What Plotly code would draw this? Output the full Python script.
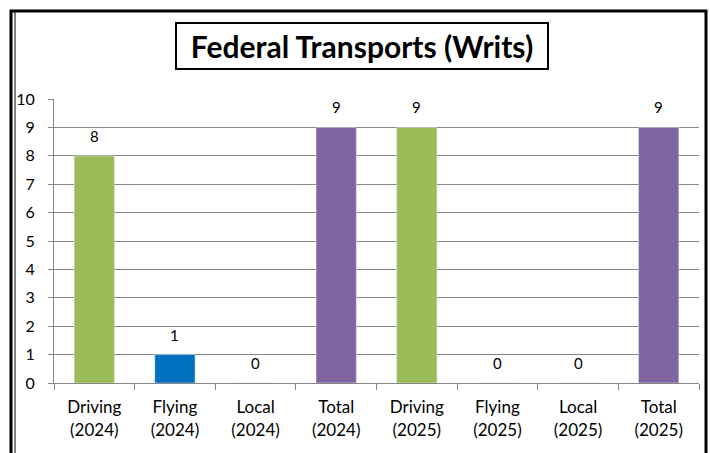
import plotly.graph_objects as go

categories = ["Driving<br>(2024)", "Flying<br>(2024)", "Local<br>(2024)", "Total<br>(2024)",
              "Driving<br>(2025)", "Flying<br>(2025)", "Local<br>(2025)", "Total<br>(2025)"]
values = [8, 1, 0, 9, 9, 0, 0, 9]
bar_colors = ["#9BBB59", "#0070C0", "#9BBB59", "#8064A2", "#9BBB59", "#0070C0", "#9BBB59", "#8064A2"]
y_ticks = list(range(0, 11))
title_text = "Federal Transports (Writs)"

W, H = 710, 453
L, R, T, B = 54, 11, 99, 70
pw, ph = W - L - R, H - T - B

def px(x):
    return (x - L) / pw

def py(y):
    return (H - B - y) / ph

FONT = "Lato, 'Open Sans', sans-serif"

fig = go.Figure(go.Bar(
    x=categories, y=values, marker_color=bar_colors, width=0.5, hoverinfo="x+y",
))

label_annots = [dict(x=c, y=v, xref="x", yref="y", text=str(v), showarrow=False,
                     yanchor="bottom", xanchor="center", yshift=9,
                     font=dict(size=15, family=FONT, color="#000000"))
                for c, v in zip(categories, values)]

fig.update_layout(
    width=W, height=H, margin=dict(l=L, r=R, t=T, b=B),
    paper_bgcolor="white", plot_bgcolor="white", showlegend=False,
    font=dict(family=FONT, size=16, color="#000000"),
    xaxis=dict(showgrid=False, showline=True, linecolor="#868686", linewidth=1,
               ticks="outside", tickson="boundaries", ticklen=6, tickcolor="#868686",
               tickfont=dict(size=17), fixedrange=True, ticklabelstandoff=9),
    yaxis=dict(range=[0, 10], tickvals=y_ticks, showgrid=True, gridcolor="#868686", gridwidth=1,
               showline=True, linecolor="#868686", ticks="outside", ticklen=5, tickcolor="#868686",
               tickfont=dict(size=16), zeroline=False, ticklabelstandoff=10),
    annotations=label_annots + [
        dict(text="<b>" + title_text + "</b>", x=px(362), y=py(46), xref="paper", yref="paper",
             showarrow=False, font=dict(size=30, family=FONT, color="#000000"),
             bordercolor="#000000", borderwidth=2, borderpad=0, bgcolor="white",
             width=370, height=44, align="center", valign="middle",
             xanchor="center", yanchor="middle")],
    shapes=[
        dict(type="rect", xref="paper", yref="paper", x0=px(11), x1=px(706), y0=py(458), y1=py(11),
             line=dict(color="#000000", width=3), layer="above"),
        dict(type="line", xref="paper", yref="paper", x0=px(15), x1=px(15), y0=py(458), y1=py(12),
             line=dict(color="#000000", width=1), layer="above"),
    ],
)

fig.write_html("out.html", config={"displayModeBar": False},
               post_script="document.body.style.margin='0';document.body.style.padding='0';")
